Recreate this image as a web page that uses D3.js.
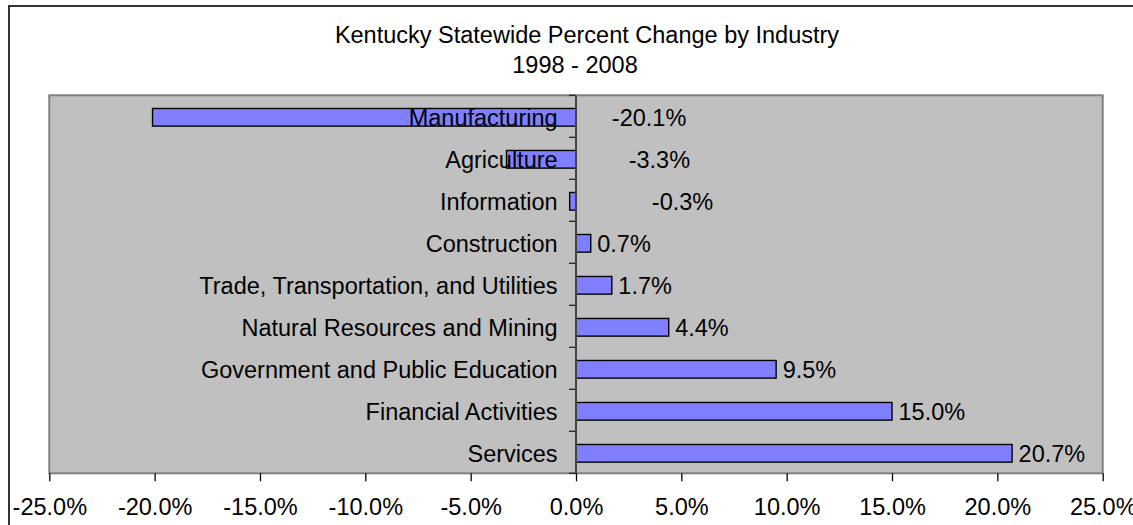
<!DOCTYPE html>
<html>
<head>
<meta charset="utf-8">
<script src="https://cdn.jsdelivr.net/npm/d3@7"></script>
<style>
  body { margin: 0; background: #fff; }
  svg { display: block; font-family: "Liberation Sans", Arial, sans-serif; }
</style>
</head>
<body>
<svg id="chart" width="1133" height="525"></svg>
<script>
const categories = [
  "Manufacturing",
  "Agriculture",
  "Information",
  "Construction",
  "Trade, Transportation, and Utilities",
  "Natural Resources and Mining",
  "Government and Public Education",
  "Financial Activities",
  "Services"
];
const values = [-20.1, -3.3, -0.3, 0.7, 1.7, 4.4, 9.5, 15.0, 20.7];
const xTicks = [-25, -20, -15, -10, -5, 0, 5, 10, 15, 20, 25];
const titleLines = ["Kentucky Statewide Percent Change by Industry", "1998 - 2008"];
// excel put the negative value labels right of the axis (in % units)
const negLabelAt = [1.7, 2.5, 3.6];

const svg = d3.select("#chart");
const fontSize = 23.5;

// outer chart border (right/bottom edges fall outside the picture)
svg.append("rect")
  .attr("x", 9).attr("y", 6)
  .attr("width", 1200).attr("height", 600)
  .attr("fill", "#fff")
  .attr("stroke", "#333").attr("stroke-width", 2);

const plot = { left: 49.3, right: 1102.7, top: 95.3, bottom: 473.3 };

const x = d3.scaleLinear().domain([-25, 25]).range([plot.left, plot.right]);
const y = d3.scaleBand()
  .domain(categories)
  .range([plot.top, plot.bottom])
  .paddingInner(0.58)
  .paddingOuter(0.29);

// title
svg.selectAll("text.title")
  .data(titleLines)
  .enter()
  .append("text")
  .attr("class", "title")
  .attr("x", (d, i) => i === 0 ? 587 : 575)
  .attr("y", (d, i) => 43.3 + i * 30)
  .attr("text-anchor", "middle")
  .attr("font-size", fontSize)
  .text(d => d);

// plot area
svg.append("rect")
  .attr("x", plot.left).attr("y", plot.top)
  .attr("width", plot.right - plot.left)
  .attr("height", plot.bottom - plot.top)
  .attr("fill", "#c0c0c0")
  .attr("stroke", "#808080").attr("stroke-width", 2);

// bars
svg.selectAll("rect.bar")
  .data(values)
  .enter()
  .append("rect")
  .attr("class", "bar")
  .attr("x", d => x(Math.min(0, d)))
  .attr("y", (d, i) => y(categories[i]) + 1)
  .attr("width", d => Math.abs(x(d) - x(0)))
  .attr("height", y.bandwidth())
  .attr("fill", "#8080ff")
  .attr("stroke", "#000").attr("stroke-width", 1.4);

// category axis line + ticks at band boundaries
const step = y.step();
const bounds = categories.map(c => y(c) - step * y.paddingInner() / 2);
bounds.push(plot.bottom);
svg.selectAll("line.ctick")
  .data(bounds)
  .enter()
  .append("line")
  .attr("class", "ctick")
  .attr("x1", x(0) - 7).attr("x2", x(0))
  .attr("y1", d => d).attr("y2", d => d)
  .attr("stroke", "#222").attr("stroke-width", 1.3);

svg.append("line")
  .attr("x1", x(0)).attr("x2", x(0))
  .attr("y1", plot.top).attr("y2", plot.bottom)
  .attr("stroke", "#444").attr("stroke-width", 2);

// category labels (drawn on top of the bars like excel does)
svg.selectAll("text.cat")
  .data(categories)
  .enter()
  .append("text")
  .attr("class", "cat")
  .attr("x", x(0) - 18.4)
  .attr("y", d => y(d) + 1 + y.bandwidth() / 2)
  .attr("dy", "0.36em")
  .attr("text-anchor", "end")
  .attr("font-size", fontSize)
  .attr("fill", "#000")
  .text(d => d);

// value labels
let neg = 0;
svg.selectAll("text.val")
  .data(values)
  .enter()
  .append("text")
  .attr("class", "val")
  .attr("x", d => d < 0 ? x(negLabelAt[neg++]) : x(d) + 6.5)
  .attr("y", (d, i) => y(categories[i]) + 1 + y.bandwidth() / 2)
  .attr("dy", "0.36em")
  .attr("font-size", fontSize)
  .attr("fill", "#000")
  .text(d => d.toFixed(1) + "%");

// value axis
const xAxis = svg.append("g")
  .attr("transform", `translate(0,${plot.bottom})`)
  .call(d3.axisBottom(x)
    .tickValues(xTicks)
    .tickSize(8)
    .tickFormat(d => d.toFixed(1) + "%"));

xAxis.select(".domain").remove();
xAxis.selectAll(".tick line").attr("stroke", "#000").attr("stroke-width", 1.3);
xAxis.selectAll(".tick text")
  .attr("y", 41.7)
  .attr("dy", null)
  .attr("font-size", fontSize)
  .attr("font-family", "Liberation Sans, Arial, sans-serif")
  .attr("fill", "#000");
</script>
</body>
</html>
